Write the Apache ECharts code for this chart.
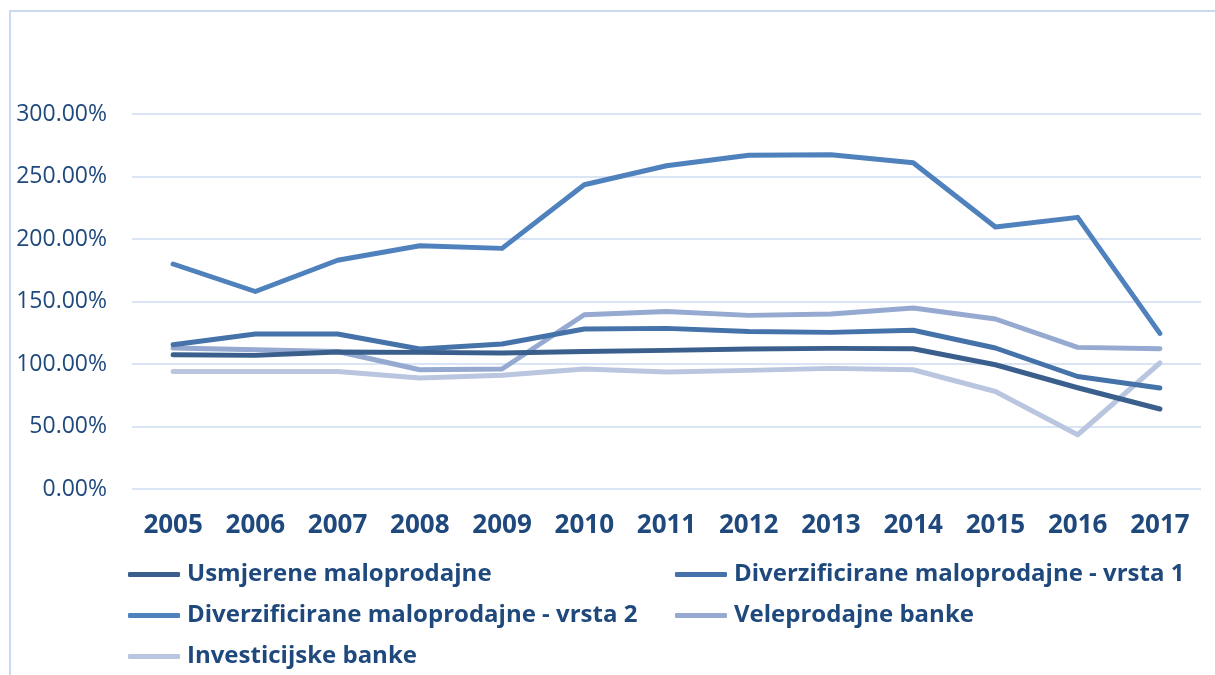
<!DOCTYPE html>
<html>
<head>
<meta charset="utf-8">
<script src="https://cdn.jsdelivr.net/npm/echarts@6/dist/echarts.min.js"></script>
<style>
html,body{margin:0;padding:0;background:#fff;}
#chart{width:1215px;height:675px;}
</style>
</head>
<body>
<div id="chart"></div>
<script>
const years = ['2005','2006','2007','2008','2009','2010','2011','2012','2013','2014','2015','2016','2017'];
const seriesNames = ['Usmjerene maloprodajne','Diverzificirane maloprodajne - vrsta 1','Diverzificirane maloprodajne - vrsta 2','Veleprodajne banke','Investicijske banke'];
const usmjerene = [107.4, 106.9, 109.6, 109.3, 108.8, 110.0, 110.9, 112.0, 112.5, 112.2, 99.4, 81.0, 64.0];
const diverz1 = [115.4, 124.0, 124.0, 112.0, 116.0, 128.0, 128.5, 126.0, 125.3, 127.0, 112.8, 90.0, 80.8];
const diverz2 = [180.0, 158.0, 183.0, 194.6, 192.5, 243.4, 258.6, 267.0, 267.4, 261.0, 209.6, 217.3, 124.5];
const veleprodajne = [112.8, 111.4, 110.0, 95.4, 96.0, 139.4, 142.0, 138.9, 140.0, 144.8, 136.0, 113.3, 112.2];
const investicijske = [94.0, 94.0, 94.0, 88.8, 91.0, 96.0, 93.6, 94.9, 96.5, 95.4, 78.0, 43.4, 100.8];
const yTicks = [0, 50, 100, 150, 200, 250, 300];

const colors = ['#3A5F8C', '#4573A9', '#4F81BD', '#95A9D1', '#BAC6DF'];
const dataAll = [usmjerene, diverz1, diverz2, veleprodajne, investicijske];
const textColor = '#1F497D';
const font = '"Open Sans", "Noto Sans", sans-serif';

const chart = echarts.init(document.getElementById('chart'), null, {renderer: 'canvas'});
const legendCommon = {
  orient: 'vertical',
  icon: 'roundRect',
  itemWidth: 52,
  itemHeight: 5,
  itemGap: 14,
  padding: 0,
  textStyle: {color: textColor, fontSize: 24, fontWeight: 'bold', fontFamily: font, lineHeight: 27, padding: [0, 0, 0, 2]},
  selectedMode: false
};
chart.setOption({
  animation: false,
  backgroundColor: '#fff',
  color: colors,
  graphic: [{
    type: 'rect',
    shape: {x: 10, y: 11, width: 1215, height: 700},
    style: {fill: 'none', stroke: '#C9D9F0', lineWidth: 2},
    silent: true
  }],
  grid: {left: 132, right: 14, top: 114, bottom: 186, containLabel: false},
  xAxis: {
    type: 'category',
    data: years,
    boundaryGap: true,
    axisLine: {show: false},
    axisTick: {show: false},
    axisLabel: {color: textColor, fontSize: 26, fontWeight: 'bold', fontFamily: font, margin: 24}
  },
  yAxis: {
    type: 'value',
    min: yTicks[0],
    max: yTicks[yTicks.length - 1],
    interval: 50,
    axisLine: {show: false},
    axisTick: {show: false},
    splitLine: {lineStyle: {color: '#D9E4F5', width: 2}},
    axisLabel: {color: textColor, fontSize: 23, fontFamily: font, margin: 25,
      formatter: v => v.toFixed(2) + '%'}
  },
  legend: [
    Object.assign({}, legendCommon, {left: 128, top: 561, data: [seriesNames[0], seriesNames[2], seriesNames[4]]}),
    Object.assign({}, legendCommon, {left: 675, top: 561, data: [seriesNames[1], seriesNames[3]]})
  ],
  series: seriesNames.map((n, i) => ({
    name: n,
    type: 'line',
    data: dataAll[i],
    symbol: 'none',
    showSymbol: false,
    lineStyle: {width: 5, color: colors[i], cap: 'round', join: 'round'},
    itemStyle: {color: colors[i]},
    z: 10 - i
  }))
});
</script>
</body>
</html>
